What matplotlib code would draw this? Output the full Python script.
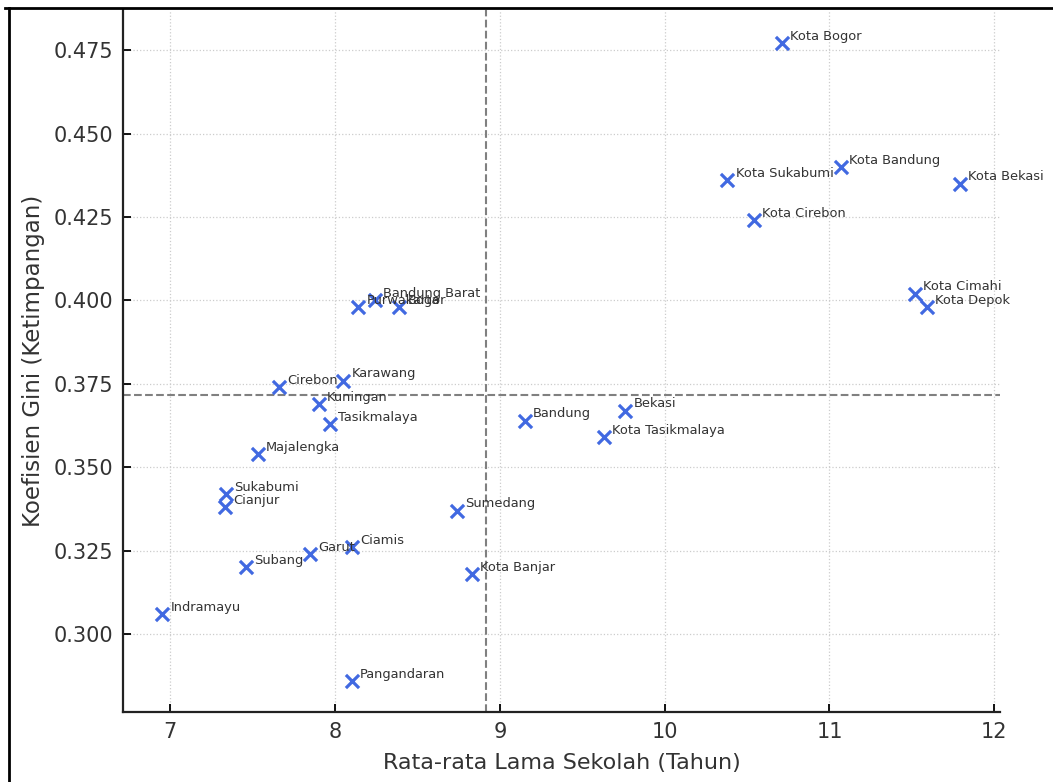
import numpy as np
import matplotlib
matplotlib.use("Agg")
import matplotlib.pyplot as plt
from matplotlib.lines import Line2D

# Kabupaten / kota Jawa Barat
wilayah = ["Kota Bogor", "Kota Bandung", "Kota Sukabumi", "Kota Bekasi", "Kota Cirebon",
           "Kota Cimahi", "Kota Depok", "Bandung Barat", "Purwakarta", "Bogor",
           "Cirebon", "Karawang", "Kuningan", "Tasikmalaya", "Majalengka",
           "Sukabumi", "Cianjur", "Sumedang", "Ciamis", "Garut", "Subang",
           "Kota Banjar", "Indramayu", "Pangandaran", "Bandung", "Bekasi",
           "Kota Tasikmalaya"]
rls = [10.71, 11.07, 10.38, 11.79, 10.54,
       11.52, 11.59, 8.24, 8.14, 8.39,
       7.66, 8.05, 7.90, 7.97, 7.53,
       7.34, 7.33, 8.74, 8.10, 7.85, 7.46,
       8.83, 6.95, 8.10, 9.15, 9.76,
       9.63]
gini = [0.477, 0.440, 0.436, 0.435, 0.424,
        0.402, 0.398, 0.400, 0.398, 0.398,
        0.374, 0.376, 0.369, 0.363, 0.354,
        0.342, 0.338, 0.337, 0.326, 0.324, 0.320,
        0.318, 0.306, 0.286, 0.364, 0.367,
        0.359]

txt = "#333333"
plt.rcParams["font.family"] = "DejaVu Sans"

fig = plt.figure(figsize=(10.53, 7.82), dpi=100)
ax = fig.add_axes([0.1168, 0.0895, 0.8329, 0.8977])

ax.scatter(rls, gini, marker="x", s=90, linewidths=2.3, color="royalblue", zorder=3)
for nama, x, y in zip(wilayah, rls, gini):
    ax.text(x + 0.05, y + 0.001, nama, fontsize=9.4, color=txt)

ax.axvline(np.mean(rls), color="gray", linestyle="--", linewidth=1.5)
ax.axhline(np.mean(gini), color="gray", linestyle="--", linewidth=1.5)

ax.set_xlim(6.713, 12.035)
ax.set_ylim(0.2767, 0.487)
ax.set_xticks([7, 8, 9, 10, 11, 12])
ax.set_yticks([0.300, 0.325, 0.350, 0.375, 0.400, 0.425, 0.450, 0.475])
ax.set_yticklabels(["0.300", "0.325", "0.350", "0.375", "0.400", "0.425", "0.450", "0.475"])
ax.grid(True, linestyle=":", color="#cccccc", linewidth=0.9)
ax.set_axisbelow(True)

ax.spines["top"].set_visible(False)
ax.spines["right"].set_visible(False)
for s in ["left", "bottom"]:
    ax.spines[s].set_linewidth(1.6)
    ax.spines[s].set_color("#222222")
ax.tick_params(direction="in", length=6, width=1.3, labelsize=15, labelcolor=txt, pad=7)

ax.set_xlabel("Rata-rata Lama Sekolah (Tahun)", fontsize=16, color=txt, labelpad=8)
ax.set_ylabel("Koefisien Gini (Ketimpangan)", fontsize=16.5, color=txt, labelpad=6)

# bingkai tangkapan layar
fig.add_artist(Line2D([0.0085, 0.0085], [0, 1 - 8 / 782], transform=fig.transFigure,
                      color="black", linewidth=2))
fig.add_artist(Line2D([0.005, 1], [1 - 8 / 782, 1 - 8 / 782], transform=fig.transFigure,
                      color="black", linewidth=2))

fig.savefig("out.png", dpi=100)
